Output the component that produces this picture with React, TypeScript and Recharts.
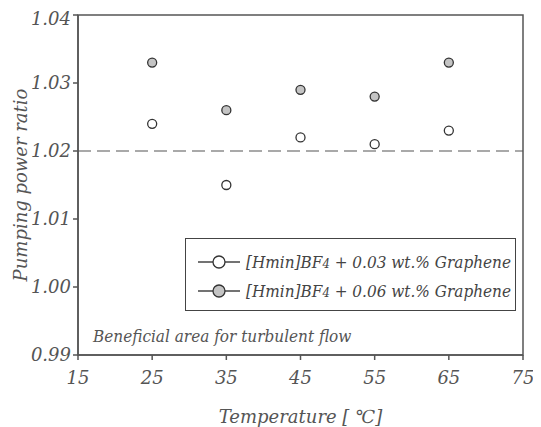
import React from 'react';
import {
  ScatterChart, Scatter, XAxis, YAxis, ZAxis, ReferenceLine, ReferenceArea,
} from 'recharts';

const temps = [25, 35, 45, 55, 65];
const ratio003 = [1.024, 1.015, 1.022, 1.021, 1.023];
const ratio006 = [1.033, 1.026, 1.029, 1.028, 1.033];
const xTicks = [15, 25, 35, 45, 55, 65, 75];
const yTicks = [0.99, 1.0, 1.01, 1.02, 1.03, 1.04];

const FONT = '"DejaVu Serif", serif';
const FONT_NARROW = '"DejaVu Serif Condensed", "Liberation Serif", serif';
const INK = '#555';

const series003 = temps.map((t, i) => ({ x: t, y: ratio003[i] }));
const series006 = temps.map((t, i) => ({ x: t, y: ratio006[i] }));

const legendItems = [
  { fill: '#ffffff', text: '0.03' },
  { fill: '#c4c4c4', text: '0.06' },
];

// legend box drawn by hand, sits inside the plot
const LegendBox = () => (
  <div
    style={{
      position: 'absolute',
      left: 177,
      top: 230,
      border: '1.5px solid #444',
      background: '#fff',
      width: 331,
      height: 73,
      boxSizing: 'border-box',
      paddingTop: 8,
      fontFamily: FONT_NARROW,
      fontStyle: 'italic',
      fontSize: 17,
      color: '#444',
      whiteSpace: 'nowrap',
    }}
  >
    {legendItems.map((it) => (
      <div key={it.text} style={{ display: 'flex', alignItems: 'center', height: 29 }}>
        <svg width={60} height={20} style={{ marginLeft: 8 }}>
          <line x1={4} y1={10} x2={46} y2={10} stroke="#444" strokeWidth={1.5} />
          <circle cx={25} cy={10} r={6} fill={it.fill} stroke="#333" strokeWidth={1.3} />
        </svg>
        <span style={{ marginLeft: -8 }}>
          [Hmin]BF<span style={{ fontSize: 13 }}>4</span> + {it.text} wt.% Graphene
        </span>
      </div>
    ))}
  </div>
);

export default function App() {
  return (
    <div style={{ position: 'relative', width: 533, height: 419 }}>
      <ScatterChart
        width={533}
        height={419}
        margin={{ top: 7, right: 18, bottom: 0, left: 0 }}
      >
        <XAxis
          type="number"
          dataKey="x"
          domain={[15, 75]}
          ticks={xTicks}
          height={72}
          tickSize={5}
          stroke="#555"
          strokeWidth={1.5}
          tick={{ fill: INK, fontFamily: FONT, fontStyle: 'italic', fontSize: 18 }}
          tickMargin={11}
          label={{
            content: ({ viewBox }: any) => (
              <text
                x={viewBox.x + viewBox.width / 2}
                y={viewBox.y + 68}
                textAnchor="middle"
                fill={INK}
                fontFamily={FONT}
                fontStyle="italic"
                fontSize={18}
              >
                Temperature [ ℃]
              </text>
            ),
          }}
        />
        <YAxis
          type="number"
          dataKey="y"
          domain={[0.99, 1.04]}
          ticks={yTicks}
          width={70}
          tickSize={5}
          stroke="#555"
          strokeWidth={1.5}
          tickFormatter={(v: number) => v.toFixed(2)}
          tick={{ fill: INK, fontFamily: FONT, fontStyle: 'italic', fontSize: 18 }}
          tickMargin={2}
          label={{
            content: ({ viewBox }: any) => {
              const cx = 12;
              const cy = viewBox.y + viewBox.height / 2;
              return (
                <text
                  x={cx}
                  y={cy}
                  transform={`rotate(-90 ${cx} ${cy})`}
                  textAnchor="middle"
                  dominantBaseline="central"
                  fill={INK}
                  fontFamily={FONT}
                  fontStyle="italic"
                  fontSize={18}
                >
                  Pumping power ratio
                </text>
              );
            },
          }}
        />
        <ZAxis range={[113, 113]} />
        <ReferenceArea
          x1={15}
          x2={75}
          y1={0.99}
          y2={1.04}
          fill="none"
          stroke="#555"
          strokeWidth={1.5}
          label={{
            content: ({ viewBox }: any) => (
              <text
                x={viewBox.x + 15}
                y={viewBox.y + viewBox.height - 13}
                fill={INK}
                fontFamily={FONT_NARROW}
                fontStyle="italic"
                fontSize={17}
              >
                Beneficial area for turbulent flow
              </text>
            ),
          }}
        />
        <ReferenceLine y={1.02} stroke="#555" strokeWidth={1.2} strokeDasharray="13 6" />
        <Scatter
          data={series003}
          fill="#ffffff"
          stroke="#333"
          strokeWidth={1.3}
          shape="circle"
          isAnimationActive={false}
        />
        <Scatter
          data={series006}
          fill="#c4c4c4"
          stroke="#333"
          strokeWidth={1.3}
          shape="circle"
          isAnimationActive={false}
        />
      </ScatterChart>
      <LegendBox />
    </div>
  );
}
